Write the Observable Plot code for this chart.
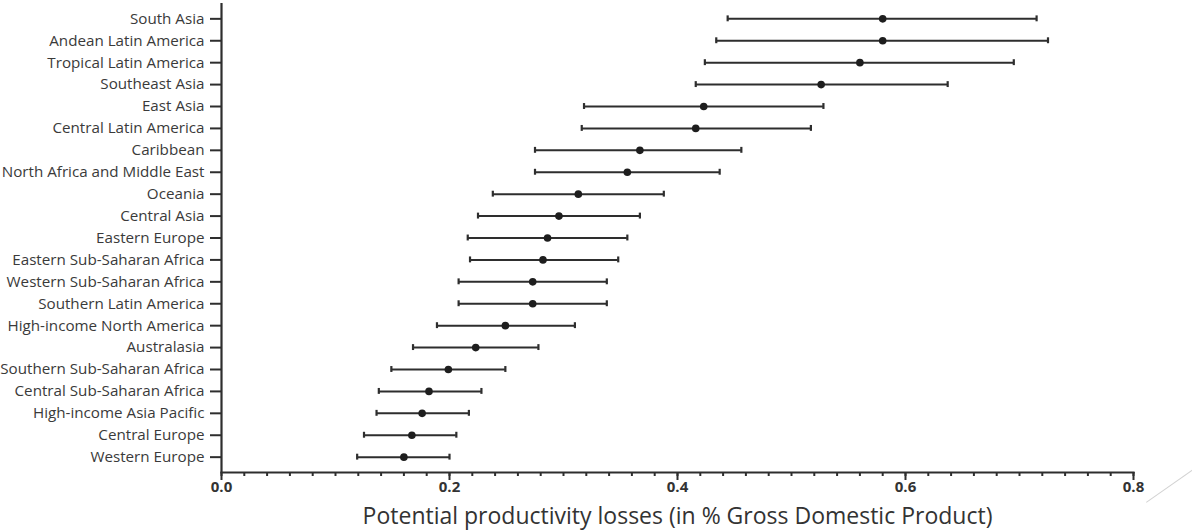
<!DOCTYPE html>
<html>
<head>
<meta charset="utf-8">
<script src="https://cdn.jsdelivr.net/npm/d3@7"></script>
<script src="https://cdn.jsdelivr.net/npm/@observablehq/plot@0.6"></script>
<style>
  html, body { margin: 0; padding: 0; background: #fff; }
  #wrap { position: relative; width: 1192px; height: 531px; overflow: hidden; }
  #deco { position: absolute; left: 1146px; top: 502px; width: 62px; height: 0; border-top: 1.5px solid #d2d2d2; transform: rotate(-35deg); transform-origin: 0 0; }
</style>
</head>
<body>
<div id="wrap"><div id="chart"></div><div id="deco"></div></div>
<script>
const regions = [
  "South Asia", "Andean Latin America", "Tropical Latin America", "Southeast Asia",
  "East Asia", "Central Latin America", "Caribbean", "North Africa and Middle East",
  "Oceania", "Central Asia", "Eastern Europe", "Eastern Sub-Saharan Africa",
  "Western Sub-Saharan Africa", "Southern Latin America", "High-income North America",
  "Australasia", "Southern Sub-Saharan Africa", "Central Sub-Saharan Africa",
  "High-income Asia Pacific", "Central Europe", "Western Europe"
];
const estimate = [0.580, 0.580, 0.560, 0.526, 0.423, 0.416, 0.367, 0.356, 0.313, 0.296, 0.286, 0.282, 0.273, 0.273, 0.249, 0.223, 0.199, 0.182, 0.176, 0.167, 0.160];
const lower    = [0.444, 0.434, 0.424, 0.416, 0.318, 0.316, 0.275, 0.275, 0.238, 0.225, 0.216, 0.218, 0.208, 0.208, 0.189, 0.168, 0.149, 0.138, 0.136, 0.125, 0.119];
const upper    = [0.715, 0.725, 0.695, 0.637, 0.528, 0.517, 0.456, 0.437, 0.388, 0.367, 0.356, 0.348, 0.338, 0.338, 0.310, 0.278, 0.249, 0.228, 0.217, 0.206, 0.200];
const majorTicks = [0, 0.2, 0.4, 0.6, 0.8];
const minorTicks = d3.range(0, 41).map(i => i / 50);
const xTitle = "Potential productivity losses (in % Gross Domestic Product)";

const data = regions.map((r, i) => ({region: r, est: estimate[i], lo: lower[i], hi: upper[i]}));
const ink = "#2e2e2e";

const chart = Plot.plot({
  width: 1192,
  height: 531,
  marginLeft: 221,
  marginRight: 59,
  marginTop: 3,
  marginBottom: 59,
  style: {fontFamily: "'Open Sans', sans-serif", background: "#fff", color: ink},
  x: {domain: [0, 0.8]},
  y: {type: "band", domain: regions, paddingInner: 0, paddingOuter: 0.2, round: false},
  marks: [
    Plot.axisY({tickSize: 11, tickPadding: 6, fontSize: 15.2, stroke: ink, strokeWidth: 2, label: null, fill: "#3a3a3a"}),
    Plot.axisX({ticks: minorTicks, tickSize: 4, strokeWidth: 2, stroke: ink, text: null, label: null}),
    Plot.axisX({ticks: majorTicks, tickSize: 8, tickPadding: 1, strokeWidth: 2, stroke: ink, tickFormat: d3.format(".1f"), fontSize: 15, fontWeight: "bold", fill: "#333", label: null}),
    Plot.ruleX([0], {stroke: ink, strokeWidth: 2.2}),
    Plot.frame({anchor: "bottom", stroke: ink, strokeWidth: 2.2}),
    Plot.ruleY(data, {y: "region", x1: "lo", x2: "hi", stroke: ink, strokeWidth: 2}),
    Plot.tickX(data, {y: "region", x: "lo", stroke: ink, strokeWidth: 2.2, insetTop: 8, insetBottom: 8}),
    Plot.tickX(data, {y: "region", x: "hi", stroke: ink, strokeWidth: 2.2, insetTop: 8, insetBottom: 8}),
    Plot.dot(data, {y: "region", x: "est", r: 3.8, fill: "#1e1e1e", stroke: null}),
    Plot.text([xTitle], {frameAnchor: "bottom", lineAnchor: "middle", dy: 44.5, fontSize: 23, fill: "#333"})
  ]
});
document.getElementById("chart").appendChild(chart);
</script>
</body>
</html>
